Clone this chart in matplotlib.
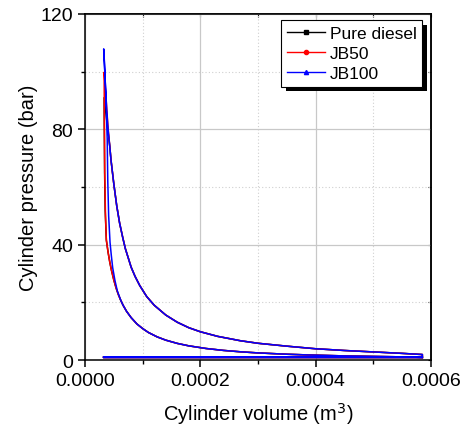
import matplotlib
matplotlib.use("Agg")
import matplotlib.pyplot as plt
from matplotlib.lines import Line2D
from matplotlib.patches import Rectangle
from matplotlib.ticker import MultipleLocator, FormatStrFormatter, NullFormatter

plt.rcParams["font.family"] = ["Liberation Sans", "DejaVu Sans"]

# compression stroke, shared by all fuels (m^3, bar)
v_comp = [5.85e-4, 5.5e-4, 5.0e-4, 4.5e-4, 4.0e-4, 3.5e-4, 3.0e-4, 2.7e-4, 2.4e-4,
          2.1e-4, 1.8e-4, 1.6e-4, 1.4e-4, 1.25e-4, 1.1e-4, 1.0e-4, 0.9e-4, 0.8e-4,
          0.72e-4, 0.66e-4, 0.62e-4]
p_comp = [0.9, 1.09, 1.24, 1.42, 1.67, 2.0, 2.46, 2.84, 3.33,
          3.99, 4.91, 5.76, 6.89, 8.03, 9.54, 10.9, 12.5, 14.7,
          16.9, 19.0, 20.7]

# combustion around TDC, one segment per fuel
v_tdc_diesel = [0.58e-4, 0.54e-4, 0.50e-4, 0.46e-4, 0.43e-4, 0.40e-4, 0.37e-4, 0.35e-4,
                0.34e-4, 0.335e-4, 0.332e-4, 0.36e-4, 0.40e-4]
p_tdc_diesel = [22.6, 24.9, 27.7, 31.0, 33.9, 37.4, 41.6, 52.0,
                65.0, 80.0, 91.0, 86.0, 79.0]
v_tdc_jb50 = [0.58e-4, 0.54e-4, 0.50e-4, 0.46e-4, 0.43e-4, 0.40e-4, 0.37e-4, 0.355e-4,
              0.342e-4, 0.335e-4, 0.332e-4, 0.36e-4, 0.40e-4]
p_tdc_jb50 = [22.6, 24.9, 27.7, 31.0, 33.9, 37.4, 41.6, 50.0,
              65.0, 85.0, 99.8, 92.0, 80.5]
v_tdc_jb100 = [0.56e-4, 0.52e-4, 0.48e-4, 0.455e-4, 0.434e-4, 0.41e-4, 0.395e-4, 0.385e-4,
               0.36e-4, 0.335e-4, 0.324e-4, 0.35e-4, 0.38e-4, 0.40e-4]
p_tdc_jb100 = [24.0, 27.5, 32.0, 36.5, 40.8, 50.0, 62.0, 76.7,
               92.0, 104.0, 107.9, 97.0, 85.5, 80.0]

# expansion stroke, shared by all fuels
v_exp = [0.43e-4, 0.45e-4, 0.50e-4, 0.55e-4, 0.60e-4, 0.654e-4, 0.70e-4, 0.80e-4,
         0.868e-4, 0.95e-4, 1.07e-4, 1.2e-4, 1.4e-4, 1.6e-4, 1.8e-4, 2.0e-4, 2.3e-4,
         2.69e-4, 3.0e-4, 3.5e-4, 4.0e-4, 4.5e-4, 5.0e-4, 5.5e-4, 5.85e-4]
p_exp = [74.0, 69.5, 61.0, 53.5, 47.5, 42.5, 38.6, 32.2,
         29.0, 25.8, 22.0, 19.0, 15.6, 13.1, 11.2, 9.8, 8.2,
         6.7, 5.8, 4.8, 3.9, 3.3, 2.8, 2.3, 1.9]

# exhaust and intake strokes
v_gas = [5.85e-4, 0.32e-4, 0.32e-4, 5.85e-4]
p_gas = [1.1, 1.1, 0.85, 0.85]

fuels = ["Pure diesel", "JB50", "JB100"]
colors = ["black", "red", "blue"]
markers = ["s", "o", "^"]
tdc_v = [v_tdc_diesel, v_tdc_jb50, v_tdc_jb100]
tdc_p = [p_tdc_diesel, p_tdc_jb50, p_tdc_jb100]

fig = plt.figure(figsize=(4.64, 4.31), dpi=100)
ax = fig.add_axes([0.1832, 0.1624, 0.7457, 0.8028])

for name, c, tv, tp in zip(fuels, colors, tdc_v, tdc_p):
    vol = v_comp + tv + v_exp + v_gas
    pres = p_comp + tp + p_exp + p_gas
    ax.plot(vol, pres, color=c, linewidth=1.1)

ax.set_xlim(0, 0.0006)
ax.set_ylim(0, 120)
ax.xaxis.set_major_locator(MultipleLocator(0.0002))
ax.xaxis.set_minor_locator(MultipleLocator(0.0001))
ax.xaxis.set_major_formatter(FormatStrFormatter("%.4f"))
ax.yaxis.set_major_locator(MultipleLocator(40))
ax.yaxis.set_minor_locator(MultipleLocator(20))

ax.grid(which="major", color="#c8c8c8", linewidth=0.9)
ax.grid(which="minor", color="#d0d0d0", linewidth=0.8, linestyle=(0, (1, 2)))
ax.set_axisbelow(True)

ax.tick_params(which="major", direction="out", length=5, width=1.1, labelsize=14)
ax.tick_params(which="minor", direction="out", length=3, width=1.0)
for s in ax.spines.values():
    s.set_linewidth(1.1)

# short inward ticks on the top and right frame
top = ax.secondary_xaxis("top")
top.xaxis.set_major_locator(MultipleLocator(0.0001))
top.xaxis.set_major_formatter(NullFormatter())
top.tick_params(direction="in", length=2, width=0.8)
top.spines["top"].set_linewidth(1.1)
right = ax.secondary_yaxis("right")
right.yaxis.set_major_locator(MultipleLocator(20))
right.yaxis.set_major_formatter(NullFormatter())
right.tick_params(direction="in", length=2, width=0.8)
right.spines["right"].set_linewidth(1.1)

ax.set_xlabel("Cylinder volume (m$^3$)", fontsize=14.5, labelpad=8)
ax.set_ylabel("Cylinder pressure (bar)", fontsize=14.5, labelpad=2)

handles = [Line2D([], [], color=c, marker=m, markersize=3, linewidth=1.0)
           for c, m in zip(colors, markers)]
leg = ax.legend(handles, fuels, loc="upper right", bbox_to_anchor=(0.974, 0.982),
                borderaxespad=0, fontsize=12.5, fancybox=False, edgecolor="black",
                framealpha=1, handlelength=2.2, handletextpad=0.3,
                labelspacing=0.3, borderpad=0.3)
leg.get_frame().set_linewidth(0.8)
leg.set_zorder(6)

# black drop shadow behind the legend box
fig.canvas.draw()
bb = leg.get_window_extent().transformed(fig.transFigure.inverted())
dx, dy = 4.5 / 464, 4.5 / 431
ax.add_patch(Rectangle((bb.x0 + dx, bb.y0 - dy), bb.width, bb.height,
                       transform=fig.transFigure, facecolor="black",
                       edgecolor="none", zorder=5.5, clip_on=False))

fig.savefig("out.png", dpi=100)
